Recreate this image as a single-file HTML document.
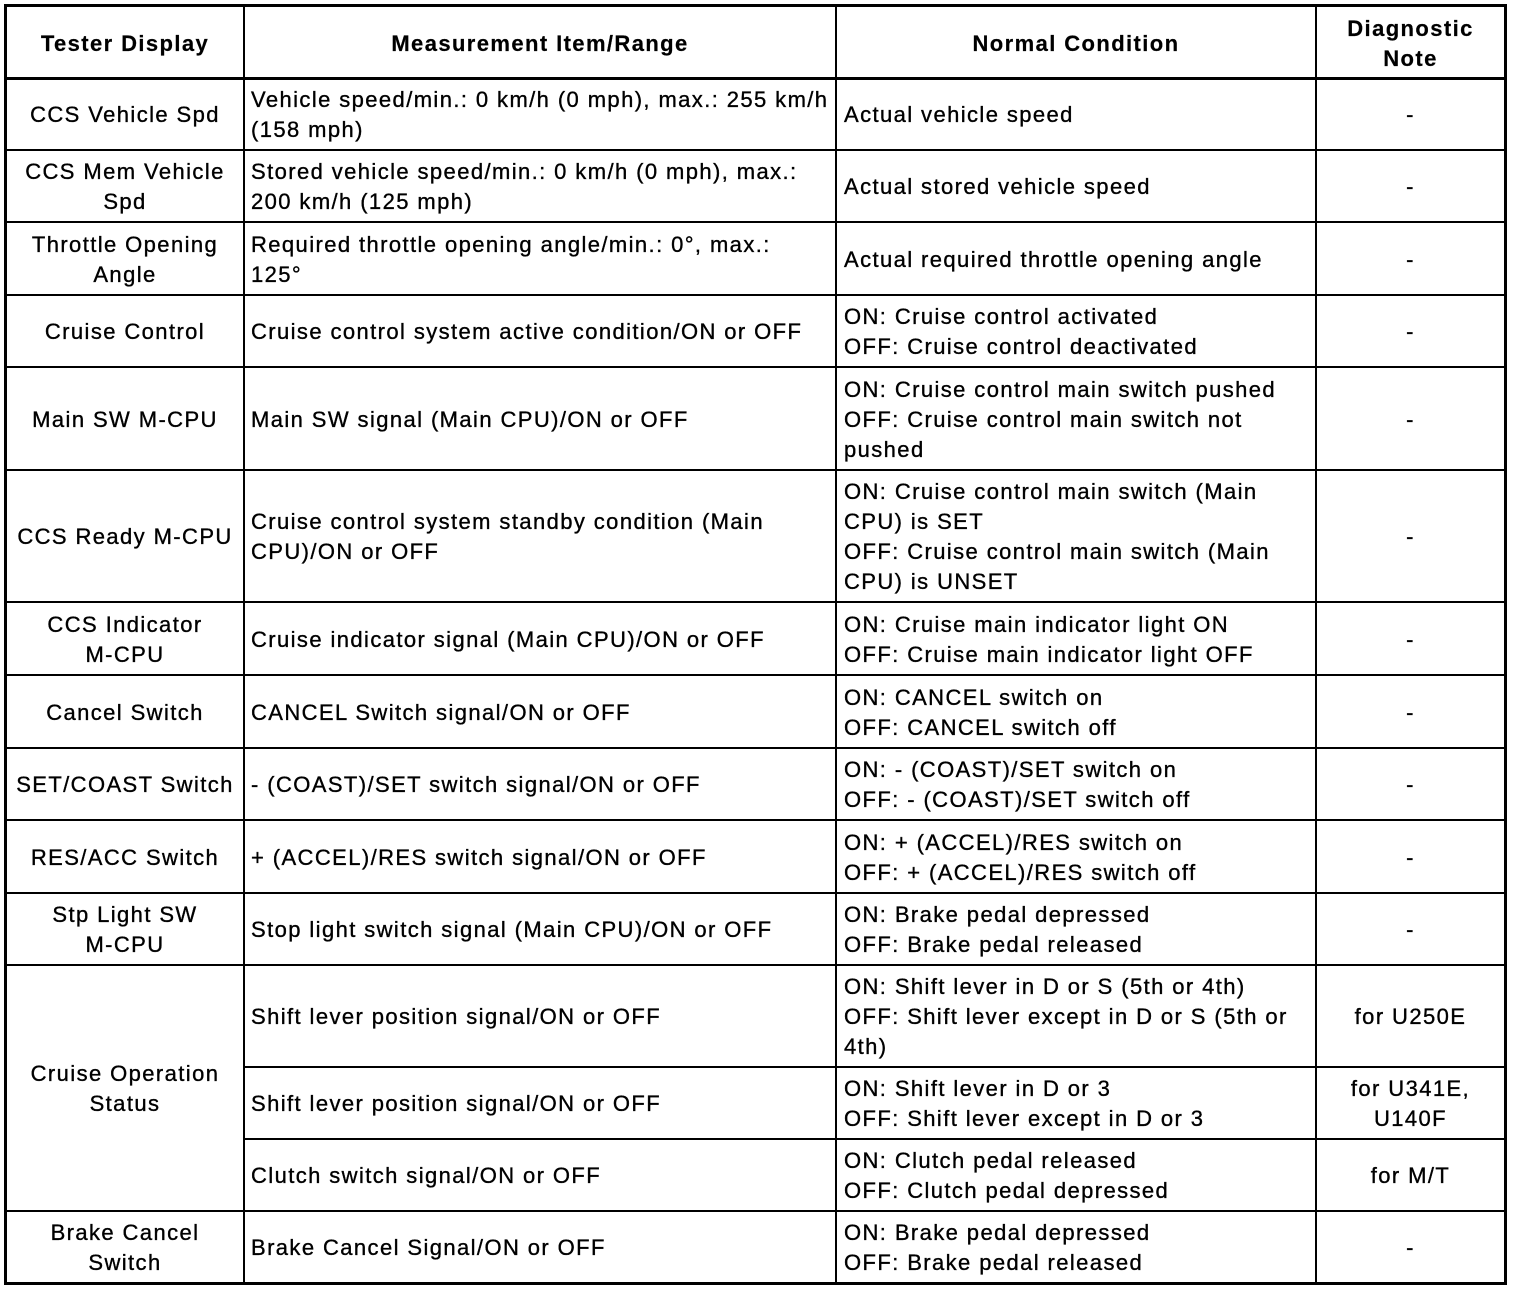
<!DOCTYPE html>
<html>
<head>
<meta charset="utf-8">
<style>
  html, body { margin:0; padding:0; background:#fff; }
  #page { position:relative; width:1520px; height:1290px; background:#fff; overflow:hidden;
    font-family:"Liberation Sans", Arial, Helvetica, sans-serif; font-size:22px; line-height:30px;
    letter-spacing:1.4px; color:#000; }
  .l { position:absolute; background:#000; }
  .c { position:absolute; display:flex; align-items:center; white-space:nowrap; box-sizing:border-box; padding-top:2px;
    -webkit-text-stroke:0.35px #000; }
  .ctr { justify-content:center; text-align:center; }
  .lft { justify-content:flex-start; text-align:left; }
  .c1 { left:7px; width:236px; }
  .c2 { left:245px; width:590px; padding-left:6px; }
  .c3 { left:837px; width:478px; padding-left:7px; }
  .c4 { left:1317px; width:187px; }
  .b { font-weight:bold; padding-top:4px; -webkit-text-stroke:0.2px #000; }
</style>
</head>
<body>
<div id="page">
  <!-- outer border -->
  <div class="l" style="left:4px;top:4px;width:1503px;height:3px;"></div>
  <div class="l" style="left:4px;top:1282px;width:1503px;height:3px;"></div>
  <div class="l" style="left:4px;top:4px;width:3px;height:1281px;"></div>
  <div class="l" style="left:1504px;top:4px;width:3px;height:1281px;"></div>
  <!-- header bottom -->
  <div class="l" style="left:4px;top:77px;width:1503px;height:3px;"></div>
  <!-- row lines -->
  <div class="l" style="left:4px;top:149px;width:1503px;height:2px;"></div>
  <div class="l" style="left:4px;top:221px;width:1503px;height:2px;"></div>
  <div class="l" style="left:4px;top:294px;width:1503px;height:2px;"></div>
  <div class="l" style="left:4px;top:366px;width:1503px;height:2px;"></div>
  <div class="l" style="left:4px;top:469px;width:1503px;height:2px;"></div>
  <div class="l" style="left:4px;top:601px;width:1503px;height:2px;"></div>
  <div class="l" style="left:4px;top:674px;width:1503px;height:2px;"></div>
  <div class="l" style="left:4px;top:747px;width:1503px;height:2px;"></div>
  <div class="l" style="left:4px;top:819px;width:1503px;height:2px;"></div>
  <div class="l" style="left:4px;top:892px;width:1503px;height:2px;"></div>
  <div class="l" style="left:4px;top:964px;width:1503px;height:2px;"></div>
  <div class="l" style="left:244px;top:1066px;width:1263px;height:2px;"></div>
  <div class="l" style="left:244px;top:1138px;width:1263px;height:2px;"></div>
  <div class="l" style="left:4px;top:1210px;width:1503px;height:2px;"></div>
  <!-- column lines -->
  <div class="l" style="left:243px;top:4px;width:2px;height:1281px;"></div>
  <div class="l" style="left:835px;top:4px;width:2px;height:1281px;"></div>
  <div class="l" style="left:1315px;top:4px;width:2px;height:1281px;"></div>

  <!-- header -->
  <div class="c c1 ctr b" style="top:7px;height:70px;">Tester Display</div>
  <div class="c ctr b" style="left:245px;width:590px;top:7px;height:70px;">Measurement Item/Range</div>
  <div class="c ctr b" style="left:837px;width:478px;top:7px;height:70px;">Normal Condition</div>
  <div class="c c4 ctr b" style="top:7px;height:70px;">Diagnostic<br>Note</div>

  <!-- row 1 -->
  <div class="c c1 ctr" style="top:79px;height:70px;">CCS Vehicle Spd</div>
  <div class="c c2 lft" style="top:79px;height:70px;">Vehicle speed/min.: 0 km/h (0 mph), max.: 255 km/h<br>(158 mph)</div>
  <div class="c c3 lft" style="top:79px;height:70px;">Actual vehicle speed</div>
  <div class="c c4 ctr" style="top:79px;height:70px;">-</div>

  <!-- row 2 -->
  <div class="c c1 ctr" style="top:151px;height:70px;">CCS Mem Vehicle<br>Spd</div>
  <div class="c c2 lft" style="top:151px;height:70px;">Stored vehicle speed/min.: 0 km/h (0 mph), max.:<br>200 km/h (125 mph)</div>
  <div class="c c3 lft" style="top:151px;height:70px;">Actual stored vehicle speed</div>
  <div class="c c4 ctr" style="top:151px;height:70px;">-</div>

  <!-- row 3 -->
  <div class="c c1 ctr" style="top:223px;height:71px;">Throttle Opening<br>Angle</div>
  <div class="c c2 lft" style="top:223px;height:71px;">Required throttle opening angle/min.: 0°, max.:<br>125°</div>
  <div class="c c3 lft" style="top:223px;height:71px;">Actual required throttle opening angle</div>
  <div class="c c4 ctr" style="top:223px;height:71px;">-</div>

  <!-- row 4 -->
  <div class="c c1 ctr" style="top:296px;height:70px;">Cruise Control</div>
  <div class="c c2 lft" style="top:296px;height:70px;">Cruise control system active condition/ON or OFF</div>
  <div class="c c3 lft" style="top:296px;height:70px;">ON: Cruise control activated<br>OFF: Cruise control deactivated</div>
  <div class="c c4 ctr" style="top:296px;height:70px;">-</div>

  <!-- row 5 -->
  <div class="c c1 ctr" style="top:368px;height:101px;">Main SW M-CPU</div>
  <div class="c c2 lft" style="top:368px;height:101px;">Main SW signal (Main CPU)/ON or OFF</div>
  <div class="c c3 lft" style="top:368px;height:101px;">ON: Cruise control main switch pushed<br>OFF: Cruise control main switch not<br>pushed</div>
  <div class="c c4 ctr" style="top:368px;height:101px;">-</div>

  <!-- row 6 -->
  <div class="c c1 ctr" style="top:471px;height:130px;">CCS Ready M-CPU</div>
  <div class="c c2 lft" style="top:471px;height:130px;">Cruise control system standby condition (Main<br>CPU)/ON or OFF</div>
  <div class="c c3 lft" style="top:471px;height:130px;">ON: Cruise control main switch (Main<br>CPU) is SET<br>OFF: Cruise control main switch (Main<br>CPU) is UNSET</div>
  <div class="c c4 ctr" style="top:471px;height:130px;">-</div>

  <!-- row 7 -->
  <div class="c c1 ctr" style="top:603px;height:71px;">CCS Indicator<br>M-CPU</div>
  <div class="c c2 lft" style="top:603px;height:71px;">Cruise indicator signal (Main CPU)/ON or OFF</div>
  <div class="c c3 lft" style="top:603px;height:71px;">ON: Cruise main indicator light ON<br>OFF: Cruise main indicator light OFF</div>
  <div class="c c4 ctr" style="top:603px;height:71px;">-</div>

  <!-- row 8 -->
  <div class="c c1 ctr" style="top:676px;height:71px;">Cancel Switch</div>
  <div class="c c2 lft" style="top:676px;height:71px;">CANCEL Switch signal/ON or OFF</div>
  <div class="c c3 lft" style="top:676px;height:71px;">ON: CANCEL switch on<br>OFF: CANCEL switch off</div>
  <div class="c c4 ctr" style="top:676px;height:71px;">-</div>

  <!-- row 9 -->
  <div class="c c1 ctr" style="top:749px;height:70px;">SET/COAST Switch</div>
  <div class="c c2 lft" style="top:749px;height:70px;">- (COAST)/SET switch signal/ON or OFF</div>
  <div class="c c3 lft" style="top:749px;height:70px;">ON: - (COAST)/SET switch on<br>OFF: - (COAST)/SET switch off</div>
  <div class="c c4 ctr" style="top:749px;height:70px;">-</div>

  <!-- row 10 -->
  <div class="c c1 ctr" style="top:821px;height:71px;">RES/ACC Switch</div>
  <div class="c c2 lft" style="top:821px;height:71px;">+ (ACCEL)/RES switch signal/ON or OFF</div>
  <div class="c c3 lft" style="top:821px;height:71px;">ON: + (ACCEL)/RES switch on<br>OFF: + (ACCEL)/RES switch off</div>
  <div class="c c4 ctr" style="top:821px;height:71px;">-</div>

  <!-- row 11 -->
  <div class="c c1 ctr" style="top:894px;height:70px;">Stp Light SW<br>M-CPU</div>
  <div class="c c2 lft" style="top:894px;height:70px;">Stop light switch signal (Main CPU)/ON or OFF</div>
  <div class="c c3 lft" style="top:894px;height:70px;">ON: Brake pedal depressed<br>OFF: Brake pedal released</div>
  <div class="c c4 ctr" style="top:894px;height:70px;">-</div>

  <!-- row 12 -->
  <div class="c c1 ctr" style="top:966px;height:244px;">Cruise Operation<br>Status</div>
  <div class="c c2 lft" style="top:966px;height:100px;">Shift lever position signal/ON or OFF</div>
  <div class="c c3 lft" style="top:966px;height:100px;">ON: Shift lever in D or S (5th or 4th)<br>OFF: Shift lever except in D or S (5th or<br>4th)</div>
  <div class="c c4 ctr" style="top:966px;height:100px;">for U250E</div>

  <div class="c c2 lft" style="top:1068px;height:70px;">Shift lever position signal/ON or OFF</div>
  <div class="c c3 lft" style="top:1068px;height:70px;">ON: Shift lever in D or 3<br>OFF: Shift lever except in D or 3</div>
  <div class="c c4 ctr" style="top:1068px;height:70px;">for U341E,<br>U140F</div>

  <div class="c c2 lft" style="top:1140px;height:70px;">Clutch switch signal/ON or OFF</div>
  <div class="c c3 lft" style="top:1140px;height:70px;">ON: Clutch pedal released<br>OFF: Clutch pedal depressed</div>
  <div class="c c4 ctr" style="top:1140px;height:70px;">for M/T</div>

  <!-- row 13 -->
  <div class="c c1 ctr" style="top:1212px;height:70px;">Brake Cancel<br>Switch</div>
  <div class="c c2 lft" style="top:1212px;height:70px;">Brake Cancel Signal/ON or OFF</div>
  <div class="c c3 lft" style="top:1212px;height:70px;">ON: Brake pedal depressed<br>OFF: Brake pedal released</div>
  <div class="c c4 ctr" style="top:1212px;height:70px;">-</div>
</div>
</body>
</html>
